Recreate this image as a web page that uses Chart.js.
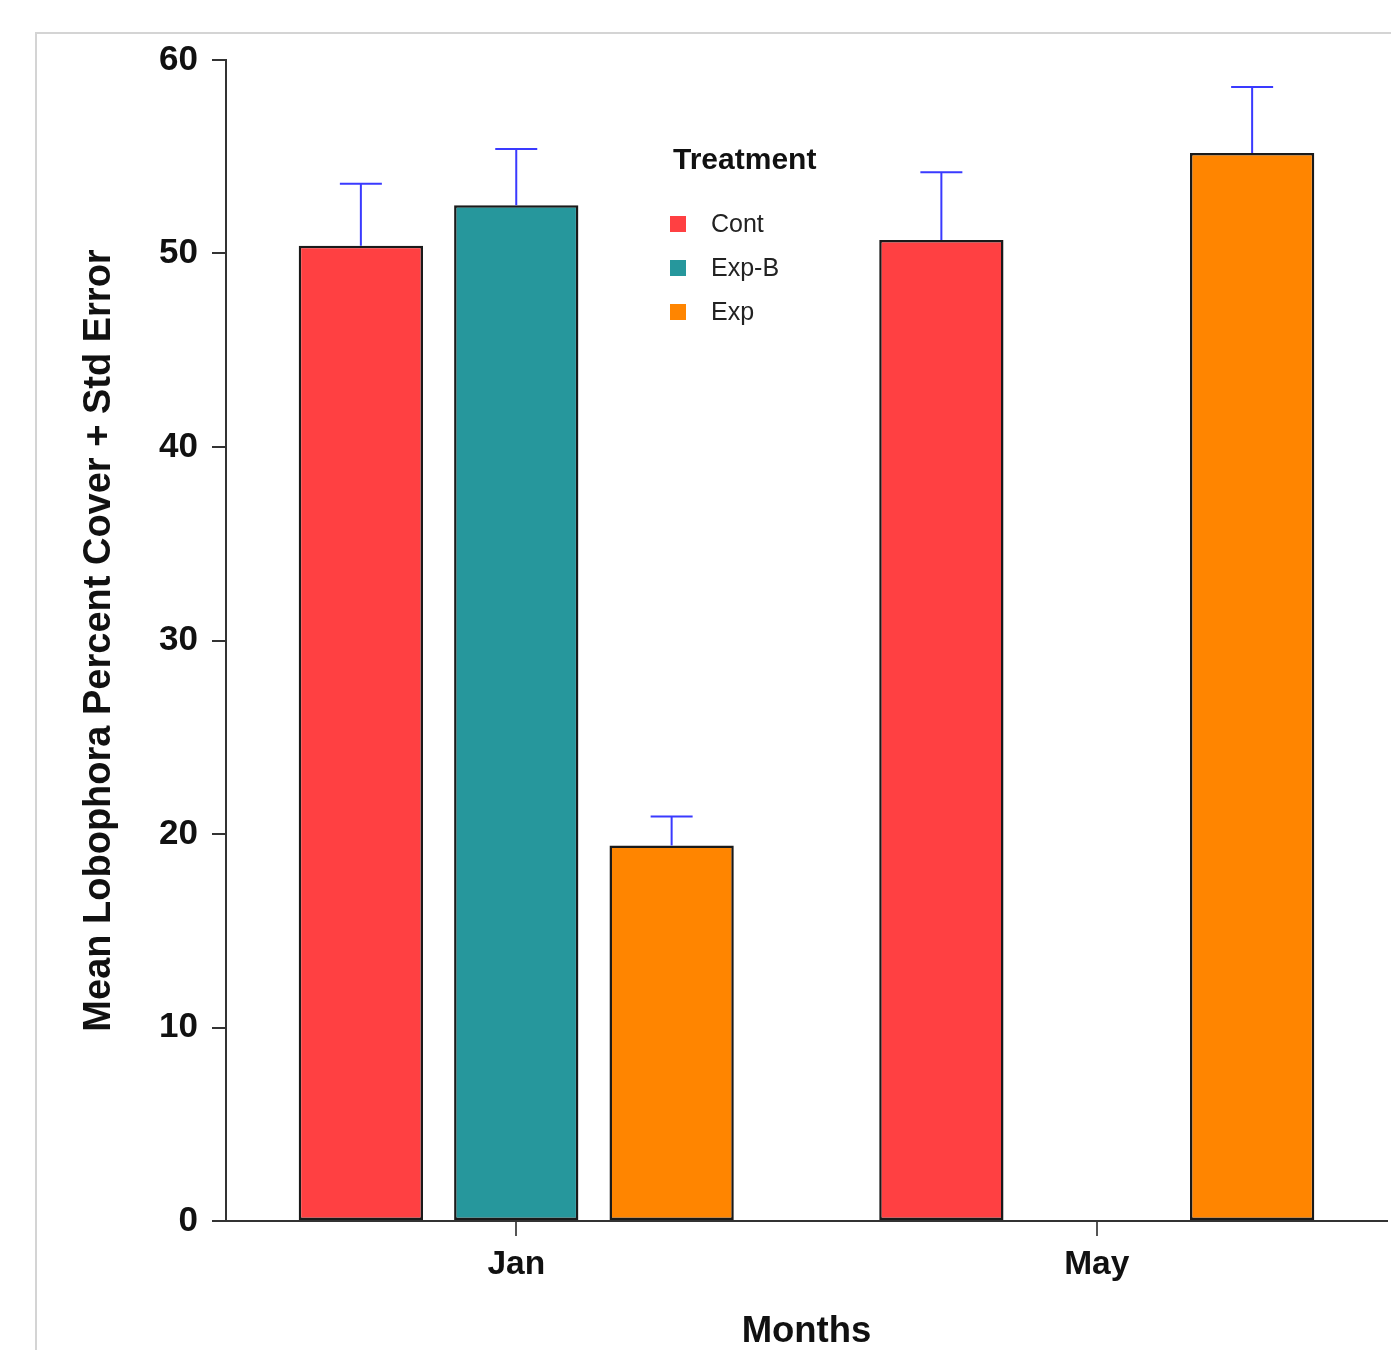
<!DOCTYPE html>
<html>
<head>
<meta charset="utf-8">
<script src="https://cdn.jsdelivr.net/npm/chart.js@4.4.0/dist/chart.umd.min.js"></script>
<style>
	html, body { margin: 0; padding: 0; background: #fff; }
	#wrap { position: relative; width: 1391px; height: 1350px; }
	#frame { position: absolute; left: 35px; top: 32px; right: 0; bottom: 0; border-top: 2px solid #d4d4d4; border-left: 2px solid #d4d4d4; }
	#chart { position: absolute; left: 0; top: 0; }
</style>
</head>
<body>
<div id="wrap">
	<div id="frame"></div>
	<canvas id="chart" width="1391" height="1350"></canvas>
</div>
<script>
const months = ['Jan', 'May'];
const treatments = ['Cont', 'Exp-B', 'Exp'];
const colors = ['#ff4042', '#26979c', '#ff8500'];
const contMean = [50.4, 50.7];
const contErr = [3.2, 3.5];
const expBMean = [52.5, null];
const expBErr = [2.9, null];
const expMean = [19.4, 55.2];
const expErr = [1.5, 3.4];
const yTicks = [0, 10, 20, 30, 40, 50, 60];

const FONT = "'Liberation Sans', Arial, sans-serif";

// blue "+ std error" whiskers on top of each bar
const errorBars = {
	id: 'errorBars',
	afterDatasetsDraw(chart) {
		const ctx = chart.ctx;
		const y = chart.scales.y;
		ctx.save();
		ctx.strokeStyle = '#3a3aff';
		ctx.lineWidth = 2;
		chart.data.datasets.forEach((ds, i) => {
			const meta = chart.getDatasetMeta(i);
			meta.data.forEach((bar, j) => {
				const v = ds.data[j];
				const e = ds.errors[j];
				if (v == null || e == null) return;
				const top = y.getPixelForValue(v + e);
				ctx.beginPath();
				ctx.moveTo(bar.x, bar.y);
				ctx.lineTo(bar.x, top);
				ctx.moveTo(bar.x - 21, top);
				ctx.lineTo(bar.x + 21, top);
				ctx.stroke();
			});
		});
		ctx.restore();
	}
};

// legend sits inside the plot, between the two groups
const innerLegend = {
	id: 'innerLegend',
	afterDraw(chart) {
		const ctx = chart.ctx;
		ctx.save();
		ctx.fillStyle = '#111';
		ctx.font = 'bold 30px ' + FONT;
		ctx.textBaseline = 'middle';
		ctx.fillText('Treatment', 673, 161);
		ctx.font = '25px ' + FONT;
		chart.data.datasets.forEach((ds, i) => {
			const cy = 224 + i * 44;
			ctx.fillStyle = ds.backgroundColor;
			ctx.fillRect(670, cy - 8, 16, 16);
			ctx.fillStyle = '#222';
			ctx.fillText(ds.label, 711, cy + 1);
		});
		ctx.restore();
	}
};

new Chart(document.getElementById('chart').getContext('2d'), {
	type: 'bar',
	data: {
		labels: months,
		datasets: [
			{ label: treatments[0], data: contMean, errors: contErr, backgroundColor: colors[0] },
			{ label: treatments[1], data: expBMean, errors: expBErr, backgroundColor: colors[1] },
			{ label: treatments[2], data: expMean, errors: expErr, backgroundColor: colors[2] }
		].map(d => Object.assign(d, { borderColor: '#1a1a1a', borderWidth: 2.5, borderSkipped: false }))
	},
	options: {
		responsive: false,
		animation: false,
		categoryPercentage: 0.803,
		barPercentage: 0.8,
		layout: { padding: { top: 60, right: 4, left: 0, bottom: 0 } },
		plugins: {
			legend: { display: false },
			tooltip: { enabled: false }
		},
		scales: {
			x: {
				grid: { offset: false, drawOnChartArea: false, tickLength: 15, color: '#555', lineWidth: 2 },
				border: { color: '#333', width: 2 },
				ticks: { color: '#111', padding: 9, font: { family: FONT, size: 33.5, weight: 'bold' } },
				title: { display: true, text: 'Months', color: '#111', padding: { top: 0, bottom: -4 }, font: { family: FONT, size: 36.5, weight: 'bold' } },
				afterFit(scale) { scale.height = 129; }
			},
			y: {
				min: 0,
				max: 60,
				afterBuildTicks(scale) { scale.ticks = yTicks.map(v => ({ value: v })); },
				grid: { drawOnChartArea: false, tickLength: 14, color: '#333', lineWidth: 2 },
				border: { color: '#333', width: 2 },
				ticks: { color: '#111', padding: 14, font: { family: FONT, size: 35, weight: 'bold' } },
				title: { display: true, text: 'Mean Lobophora Percent Cover + Std Error', color: '#111', padding: { top: 77, bottom: 0 }, font: { family: FONT, size: 38, weight: 'bold' } },
				afterFit(scale) { scale.width = 226; }
			}
		}
	},
	plugins: [errorBars, innerLegend]
});
</script>
</body>
</html>
